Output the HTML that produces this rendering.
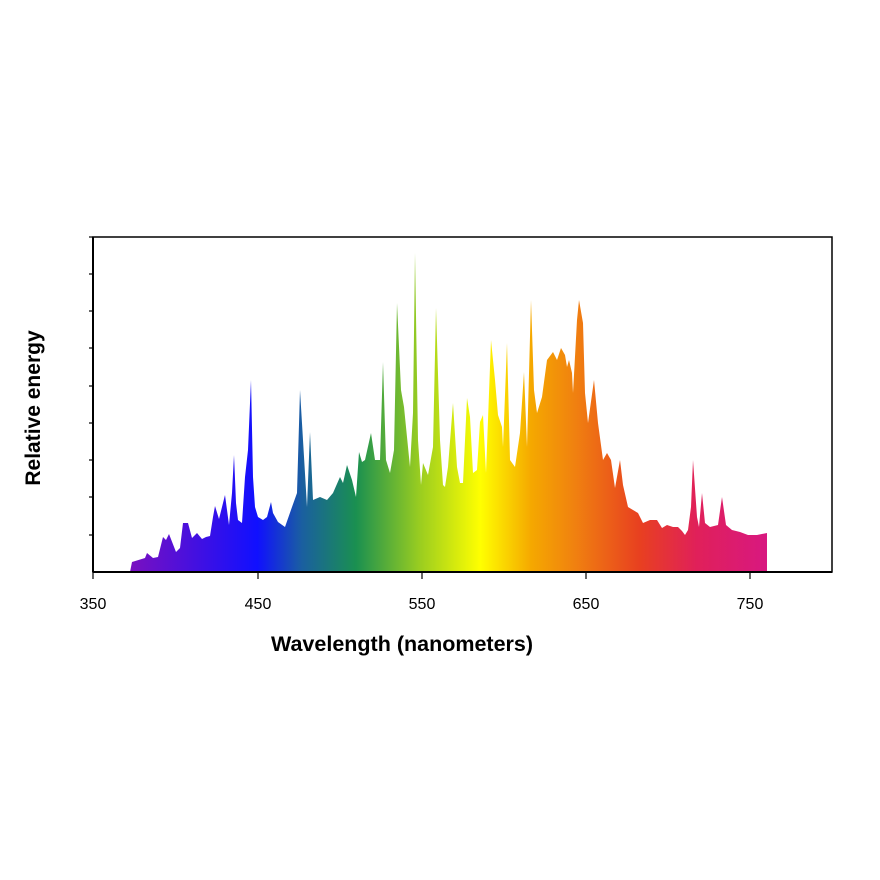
<!DOCTYPE html>
<html><head><style>body{margin:0;background:#fff}svg{display:block}</style></head><body>
<svg width="880" height="880" xmlns="http://www.w3.org/2000/svg">
<defs>
<linearGradient id="g" gradientUnits="userSpaceOnUse" x1="130" y1="0" x2="767" y2="0">
<stop offset="0" stop-color="#7a10c0"/>
<stop offset="0.2" stop-color="#1010ff"/>
<stop offset="0.27" stop-color="#1a5fa0"/>
<stop offset="0.355" stop-color="#1a9050"/>
<stop offset="0.455" stop-color="#9acd20"/>
<stop offset="0.55" stop-color="#ffff00"/>
<stop offset="0.63" stop-color="#f5a800"/>
<stop offset="0.7" stop-color="#f08010"/>
<stop offset="0.8" stop-color="#e84020"/>
<stop offset="0.89" stop-color="#e0205a"/>
<stop offset="1" stop-color="#d81880"/>
</linearGradient>
</defs>
<polygon fill="url(#g)" points="130,572 132,562 145,558 147,553 153,558 158,557 163,537 166,540 169,534 176,552 180,548 183,523 188,523 192,538 197,533 202,539 206,537 210,536 213,517 215,506 219,519 222,507 225,495 229,525 232,493 234,455 236,503 238,520 242,523 245,477 248,450 251,380 253,477 255,507 258,517 263,520 267,517 271,502 273,513 278,522 285,527 292,507 297,493 300,390 303,440 307,507 310,432 313,500 320,497 327,500 333,493 340,477 343,483 347,465 352,480 356,497 359,452 362,462 365,460 371,433 375,460 380,460 383,362 386,460 390,473 394,450 397,303 401,390 404,407 410,467 413,413 415,253 418,440 421,485 423,463 428,475 433,447 436,308 440,440 443,485 445,487 448,467 453,403 457,467 460,483 463,483 467,398 470,417 473,473 477,470 480,422 483,415 486,473 491,340 495,380 498,415 502,427 503,447 507,343 510,460 515,467 520,433 524,372 527,447 531,300 534,390 537,413 542,397 547,360 553,352 557,360 561,348 565,355 567,367 569,360 572,373 573,393 577,320 579,300 583,323 585,393 588,423 594,380 598,423 603,460 607,453 611,460 615,488 620,460 623,485 628,507 633,510 638,513 643,523 650,520 657,520 662,528 667,525 673,527 678,527 682,531 685,535 688,530 691,507 693,460 697,517 699,527 702,493 705,523 710,527 718,525 722,497 726,525 732,530 740,532 748,535 757,535 767,533 767,572"/>
<rect x="93" y="237" width="739" height="335" fill="none" stroke="#000" stroke-width="1.5"/>
<line x1="93" y1="572" x2="832" y2="572" stroke="#000" stroke-width="2"/>
<line x1="93" y1="237" x2="93" y2="572" stroke="#000" stroke-width="2"/>
<g stroke="#000" stroke-width="1.2">
<line x1="89" y1="237" x2="93" y2="237"/><line x1="89" y1="274" x2="93" y2="274"/><line x1="89" y1="311" x2="93" y2="311"/><line x1="89" y1="348" x2="93" y2="348"/><line x1="89" y1="386" x2="93" y2="386"/><line x1="89" y1="423" x2="93" y2="423"/><line x1="89" y1="460" x2="93" y2="460"/><line x1="89" y1="497" x2="93" y2="497"/><line x1="89" y1="535" x2="93" y2="535"/>
<line x1="93" y1="572" x2="93" y2="579"/><line x1="258" y1="572" x2="258" y2="579"/><line x1="422" y1="572" x2="422" y2="579"/><line x1="586" y1="572" x2="586" y2="579"/><line x1="750" y1="572" x2="750" y2="579"/>
</g>
<g font-family="Liberation Sans, sans-serif" font-size="16" text-anchor="middle" fill="#000">
<text x="93" y="609">350</text><text x="258" y="609">450</text><text x="422" y="609">550</text><text x="586" y="609">650</text><text x="750" y="609">750</text>
<text x="402" y="651" font-weight="bold" font-size="21.5">Wavelength (nanometers)</text>
<text x="0" y="0" font-weight="bold" font-size="21" transform="translate(40,408) rotate(-90)">Relative energy</text>
</g>
</svg>
</body></html>
